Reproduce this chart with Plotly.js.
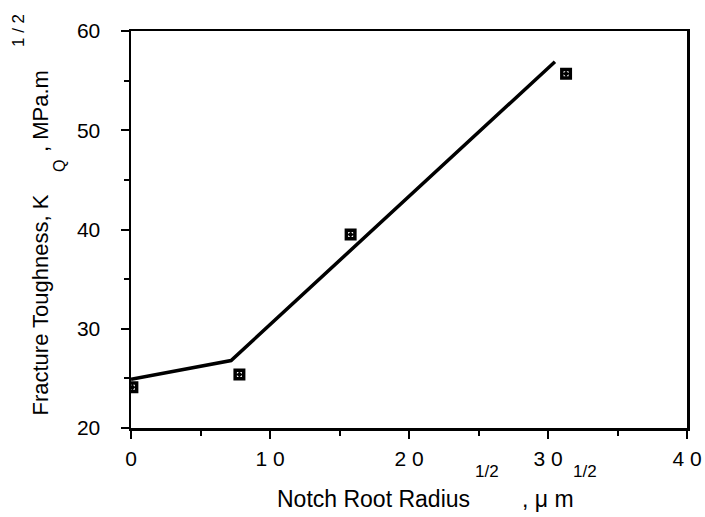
<!DOCTYPE html>
<html>
<head>
<meta charset="utf-8">
<script src="https://cdn.plot.ly/plotly-3.0.1.min.js"></script>
<style>html,body{margin:0;padding:0;background:#fff;}#chart{width:705px;height:517px;}</style>
</head>
<body>
<div id="chart"></div>
<script>
// Measured points (notch root radius^1/2 vs fracture toughness KQ)
var pointX = [0.1, 7.8, 15.8, 31.3];
var pointY = [24.1, 25.4, 39.5, 55.7];
// Fitted bilinear line
var lineX = [0, 7.2, 30.5];
var lineY = [24.9, 26.8, 56.9];
// Tick labels
var xTickVals = [0, 10, 20, 30, 40];
var xTickText = ["0", "1 0", "2 0", "3 0", "4 0"];
var xMinorVals = [5, 15, 25, 35];
var yTickVals = [20, 30, 40, 50, 60];
var yTickText = ["20", "30", "40", "50", "60"];
var yMinorVals = [25, 35, 45, 55];

var FONT = "Liberation Sans, Arial, Helvetica, sans-serif";

var traces = [
  {x: lineX, y: lineY, mode: "lines", type: "scatter",
   line: {color: "#000", width: 3.5}, hoverinfo: "skip", showlegend: false},
  {x: pointX, y: pointY, mode: "markers", type: "scatter",
   marker: {symbol: "square-dot", size: 8.5, color: "#fff", line: {color: "#000", width: 3.5}},
   showlegend: false}
];

function ann(text, size, xs, ys, xa, ya, angle) {
  return {text: text, xref: "paper", yref: "paper", x: 0, y: 0,
    xshift: xs, yshift: ys, xanchor: xa, yanchor: ya, showarrow: false,
    textangle: angle || 0, font: {family: FONT, size: size, color: "#000"}};
}

var axisCommon = {
  showgrid: false, zeroline: false, showline: true, linecolor: "#000", linewidth: 2.5,
  mirror: true, ticks: "outside", ticklen: 8, tickwidth: 2, tickcolor: "#000",
  tickfont: {family: FONT, size: 21, color: "#000"}, tickmode: "array"
};

var layout = {
  width: 705, height: 517,
  margin: {l: 131, r: 18, t: 31, b: 89},
  paper_bgcolor: "#fff", plot_bgcolor: "#fff",
  showlegend: false,
  xaxis: Object.assign({}, axisCommon, {
    range: [0, 40], tickvals: xTickVals, ticktext: xTickText, ticklabelstandoff: 2,
    minor: {tickvals: xMinorVals, ticks: "outside", ticklen: 5, tickwidth: 2, tickcolor: "#000"}
  }),
  yaxis: Object.assign({}, axisCommon, {
    range: [20, 60], tickvals: yTickVals, ticktext: yTickText, ticklabelstandoff: 16,
    minor: {tickvals: yMinorVals, ticks: "outside", ticklen: 5, tickwidth: 2, tickcolor: "#000"}
  }),
  annotations: [
    ann("Notch Root Radius", 23, 144, -71, "left", "middle"),
    ann("1/2", 17, 342, -43, "left", "middle"),
    ann(", \u03bc m", 23, 389, -71, "left", "middle"),
    ann("1/2", 17, 440, -43, "left", "middle"),
    ann("Fracture Toughness, K", 22, -91, 10, "center", "bottom", -90),
    ann("Q", 16, -72, 262, "center", "middle", -90),
    ann(", MPa.m", 22, -91, 274, "center", "bottom", -90),
    ann("1\u00a0/\u00a02", 17, -113, 397, "center", "middle", -90)
  ]
};

Plotly.newPlot("chart", traces, layout, {displayModeBar: false, staticPlot: true});
</script>
</body>
</html>
